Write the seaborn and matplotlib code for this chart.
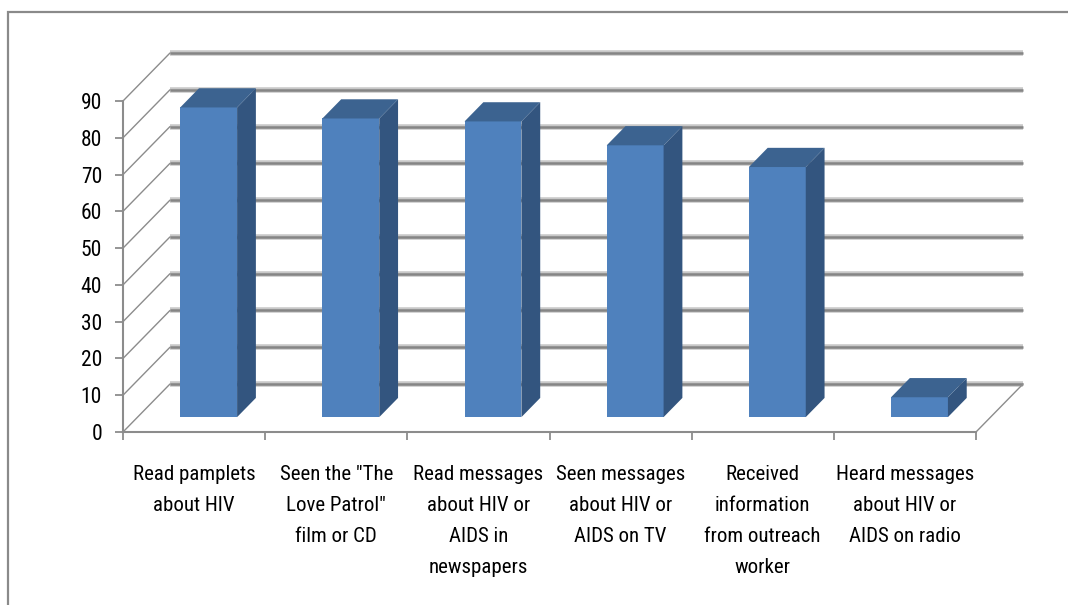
import numpy as np
import seaborn as sns
import matplotlib
matplotlib.use("Agg")
import matplotlib.pyplot as plt
from matplotlib import font_manager
from matplotlib.patches import Polygon, Rectangle

# ---- data -------------------------------------------------------------
categories = [
    "Read pamplets about HIV",
    'Seen the "The Love Patrol" film or CD',
    "Read messages about HIV or AIDS in newspapers",
    "Seen messages about HIV or AIDS on TV",
    "Received information from outreach worker",
    "Heard messages about HIV or AIDS on radio",
]
tick_labels = [
    "Read pamplets\nabout HIV",
    'Seen the "The\nLove Patrol"\nfilm or CD',
    "Read messages\nabout HIV or\nAIDS in\nnewspapers",
    "Seen messages\nabout HIV or\nAIDS on TV",
    "Received\ninformation\nfrom outreach\nworker",
    "Heard messages\nabout HIV or\nAIDS on radio",
]
values = [84.2, 81.2, 80.4, 73.9, 68.0, 5.4]
y_ticks = [0, 10, 20, 30, 40, 50, 60, 70, 80, 90]


def pick_font(names):
    for name in names:
        try:
            font_manager.findfont(name, fallback_to_default=False)
            return name
        except ValueError:
            continue
    return "DejaVu Sans"


sns.set_style("white")
font = pick_font(["Liberation Sans Narrow", "Roboto Condensed", "Liberation Sans"])
plt.rcParams["font.family"] = [font, "DejaVu Sans"]

FRONT = "#4f81bd"
SIDE = "#33557f"
TOP = "#3c6390"
GRID_DARK = "#858585"
GRID_LIGHT = "#c8c8c8"
AXIS = "#8c8c8c"

W_PX, H_PX = 1068, 605
fig = plt.figure(figsize=(W_PX / 100, H_PX / 100), dpi=100)

# front plane of the plot: x from 123 px to 976 px, y=0 at 432 px, y=90 at 101 px
left, right, bottom, top = 123, 976, 432, 101
ax = fig.add_axes([left / W_PX, (H_PX - bottom) / H_PX,
                   (right - left) / W_PX, (bottom - top) / H_PX])

n = len(categories)
ax.set_xlim(-0.5, n - 0.5)
ax.set_ylim(0, 90)

# depth of the 3-D box, expressed in data units (about 47 px right, 48 px up)
DX = 47 * n / (right - left)
DY = 48 * 90 / (bottom - top)
F0, F1 = 0.31, 0.71  # front and back of the columns as a fraction of the depth

# chart-area border
fig.patches.append(Rectangle((8 / W_PX, -0.1), 1.2, (H_PX - 12) / H_PX + 0.1,
                             transform=fig.transFigure, fill=False,
                             edgecolor="#8a8a8a", linewidth=1.6))

# back-wall gridlines and side-wall diagonals
for v in y_ticks:
    ax.plot([-0.5 + DX, n - 0.5 + DX], [v + DY, v + DY], color=GRID_LIGHT,
            lw=4.0, clip_on=False, zorder=1, solid_capstyle="butt")
    ax.plot([-0.5 + DX, n - 0.5 + DX], [v + DY, v + DY], color=GRID_DARK,
            lw=1.8, clip_on=False, zorder=1.1, solid_capstyle="butt")
    ax.plot([-0.5, -0.5 + DX], [v, v + DY], color=AXIS, lw=1.0,
            clip_on=False, zorder=1.2)
ax.plot([n - 0.5, n - 0.5 + DX], [0, DY], color=AXIS, lw=1.0,
        clip_on=False, zorder=1.2)

# columns
sns.barplot(x=categories, y=values, color=FRONT, saturation=1, width=0.4,
            errorbar=None, linewidth=0, ax=ax, zorder=3)

bars = list(ax.patches)
for p in bars:
    x0, w, h = p.get_x(), p.get_width(), p.get_height()
    p.set_x(x0 + F0 * DX)
    p.set_y(F0 * DY)
    p.set_clip_on(False)
    xr0 = x0 + w + F0 * DX
    xr1 = x0 + w + F1 * DX
    side = Polygon([(xr0, F0 * DY), (xr1, F1 * DY), (xr1, F1 * DY + h),
                    (xr0, F0 * DY + h)], closed=True, facecolor=SIDE,
                   edgecolor="none", zorder=3, clip_on=False)
    topf = Polygon([(x0 + F0 * DX, F0 * DY + h), (x0 + F1 * DX, F1 * DY + h),
                    (xr1, F1 * DY + h), (xr0, F0 * DY + h)], closed=True,
                   facecolor=TOP, edgecolor="none", zorder=3, clip_on=False)
    ax.add_patch(side)
    ax.add_patch(topf)

# axes styling
for s in ("top", "right"):
    ax.spines[s].set_visible(False)
for s in ("left", "bottom"):
    ax.spines[s].set_color(AXIS)
    ax.spines[s].set_linewidth(1.5)
    ax.spines[s].set_zorder(2)

ax.set_yticks(y_ticks)
ax.set_yticklabels([str(t) for t in y_ticks])
ax.tick_params(axis="y", which="major", length=6, width=1.3, color=AXIS,
               labelsize=15.5, pad=9, labelcolor="black", left=True)

ax.set_xticks(np.arange(-0.5, n, 1.0))
ax.set_xticklabels([""] * (n + 1))
ax.set_xticks(np.arange(n), minor=True)
ax.set_xticklabels(tick_labels, minor=True)
ax.tick_params(axis="x", which="major", length=6, width=1.3, color=AXIS,
               bottom=True)
ax.tick_params(axis="x", which="minor", length=0, labelsize=15, pad=24,
               labelcolor="black", bottom=True)
for lab in ax.get_xticklabels(minor=True):
    lab.set_linespacing(1.8)
    lab.set_verticalalignment("top")

ax.set_xlabel("")
ax.set_ylabel("")
ax.grid(False)
ax.set_facecolor("none")

fig.savefig("out.png", dpi=100, facecolor="white")
